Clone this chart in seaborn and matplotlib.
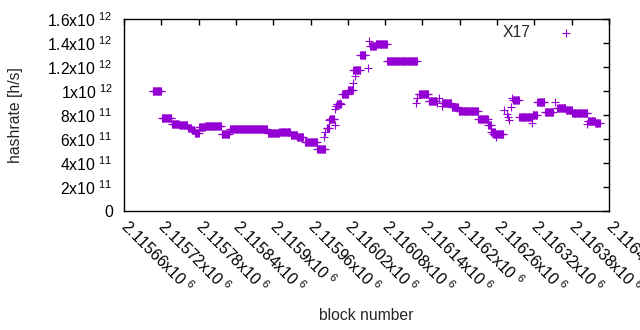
import numpy as np
import pandas as pd
import matplotlib
matplotlib.use("Agg")
import matplotlib.pyplot as plt
import seaborn as sns

# runs of equal hashrate: first block, last block, hashrate (1e11 h/s)
run_start = [2115706, 2115721, 2115737, 2115749, 2115763, 2115769, 2115774, 2115781,
             2115791, 2115817, 2115830, 2115891, 2115910, 2115928, 2115939, 2115951,
             2115971, 2115986, 2115991, 2116002, 2116011, 2116020, 2116029, 2116040,
             2116056, 2116065, 2116083, 2116134, 2116150, 2116172, 2116187, 2116198,
             2116230, 2116246, 2116251, 2116254, 2116286, 2116296, 2116317, 2116325,
             2116337, 2116357, 2116371, 2116381, 2116406, 2116418]
run_end = [2115720, 2115736, 2115748, 2115762, 2115768, 2115773, 2115780, 2115790,
           2115816, 2115829, 2115890, 2115909, 2115927, 2115938, 2115948, 2115970,
           2115983, 2115990, 2115998, 2116009, 2116020, 2116028, 2116040, 2116048,
           2116065, 2116083, 2116131, 2116149, 2116162, 2116186, 2116197, 2116229,
           2116245, 2116250, 2116256, 2116270, 2116295, 2116316, 2116324, 2116336,
           2116350, 2116370, 2116380, 2116405, 2116417, 2116425]
run_value = [10.0, 7.72, 7.22, 7.14, 6.88, 6.75, 6.52, 6.97,
             7.06, 6.39, 6.80, 6.47, 6.56, 6.30, 6.14, 5.72,
             5.17, 6.92, 7.68, 8.93, 9.75, 10.06, 11.73, 12.97,
             13.72, 13.89, 12.48, 9.73, 9.20, 8.97, 8.70, 8.33,
             7.63, 7.15, 6.62, 6.45, 9.25, 7.85, 7.98, 9.07,
             8.21, 8.56, 8.42, 8.14, 7.50, 7.30]

# single blocks
pt_block = [2115982, 2115984, 2115990, 2115999, 2116000, 2116001, 2116008, 2116028,
            2116031, 2116052, 2116054, 2116130, 2116132, 2116163, 2116166, 2116171,
            2116258, 2116271, 2116276, 2116277, 2116279, 2116282, 2116284, 2116316,
            2116353, 2116405]
pt_value = [6.20, 6.55, 7.58, 7.15, 8.50, 8.75, 9.00, 10.65,
            11.22, 11.90, 14.20, 9.00, 9.38, 8.97, 9.38, 8.73,
            6.15, 8.45, 8.12, 7.86, 7.60, 8.70, 9.39, 7.36,
            9.08, 7.22]

xtick_vals = [2115660, 2115720, 2115780, 2115840, 2115900, 2115960, 2116020,
              2116080, 2116140, 2116200, 2116260, 2116320, 2116380, 2116440]
xtick_text = ["2.11566", "2.11572", "2.11578", "2.11584", "2.1159", "2.11596", "2.11602",
              "2.11608", "2.11614", "2.1162", "2.11626", "2.11632", "2.11638", "2.11644"]
ytick_vals = [0, 2e11, 4e11, 6e11, 8e11, 1e12, 1.2e12, 1.4e12, 1.6e12]
ytick_text = ["0", "2x10 $^{11}$", "4x10 $^{11}$", "6x10 $^{11}$", "8x10 $^{11}$",
              "1x10 $^{12}$", "1.2x10 $^{12}$", "1.4x10 $^{12}$", "1.6x10 $^{12}$"]

blocks, rates = [], []
for s, e, v in zip(run_start, run_end, run_value):
    for b in range(s, e + 1):
        blocks.append(b)
        rates.append(v * 1e11)
blocks += pt_block
rates += [v * 1e11 for v in pt_value]
df = pd.DataFrame({"block": blocks, "hashrate": rates})

sns.set_style("white")
fs = 11.3
plt.rcParams["font.family"] = ["Liberation Sans", "DejaVu Sans"]
plt.rcParams["font.size"] = fs
plt.rcParams["mathtext.fontset"] = "custom"
plt.rcParams["mathtext.rm"] = "Liberation Sans"
plt.rcParams["mathtext.default"] = "regular"

fig = plt.figure(figsize=(6.4, 3.3), dpi=100)
ax = fig.add_axes([124 / 640, 1 - 211 / 330, 485 / 640, 192 / 330])

sns.scatterplot(data=df, x="block", y="hashrate", marker="+", s=26, color="#9400d3",
                linewidth=0.8, label="X17", ax=ax)

ax.set_xlim(2115660, 2116440)
ax.set_ylim(0, 1.6e12)
ax.tick_params(direction="in", length=4, width=1, top=True, right=True,
               color="black", labelsize=fs, labelcolor="black")
ax.tick_params(axis="y", pad=8)
ax.tick_params(axis="x", pad=9)
ax.set_xticks(xtick_vals)
ax.set_xticklabels([t + "x10 $^{6}$" for t in xtick_text], rotation=-45,
                   ha="left", va="center", rotation_mode="anchor", fontsize=fs)
ax.set_yticks(ytick_vals)
ax.set_yticklabels(ytick_text, fontsize=fs)
for sp in ax.spines.values():
    sp.set_color("black")
    sp.set_linewidth(1)
ax.set_xlabel("")
ax.set_ylabel("")

fig.text(366 / 640, 1 - 316 / 330, "block number", ha="center", va="center", fontsize=fs)
fig.text(16 / 640, 1 - 115 / 330, "hashrate [h/s]", ha="center", va="center",
         rotation=90, fontsize=fs)

ax.legend(loc="upper right", bbox_to_anchor=(0.944, 0.968), frameon=False,
          markerfirst=False, borderpad=0, borderaxespad=0, handlelength=2,
          handletextpad=1.3, fontsize=fs)

fig.savefig("out.png", dpi=100)
